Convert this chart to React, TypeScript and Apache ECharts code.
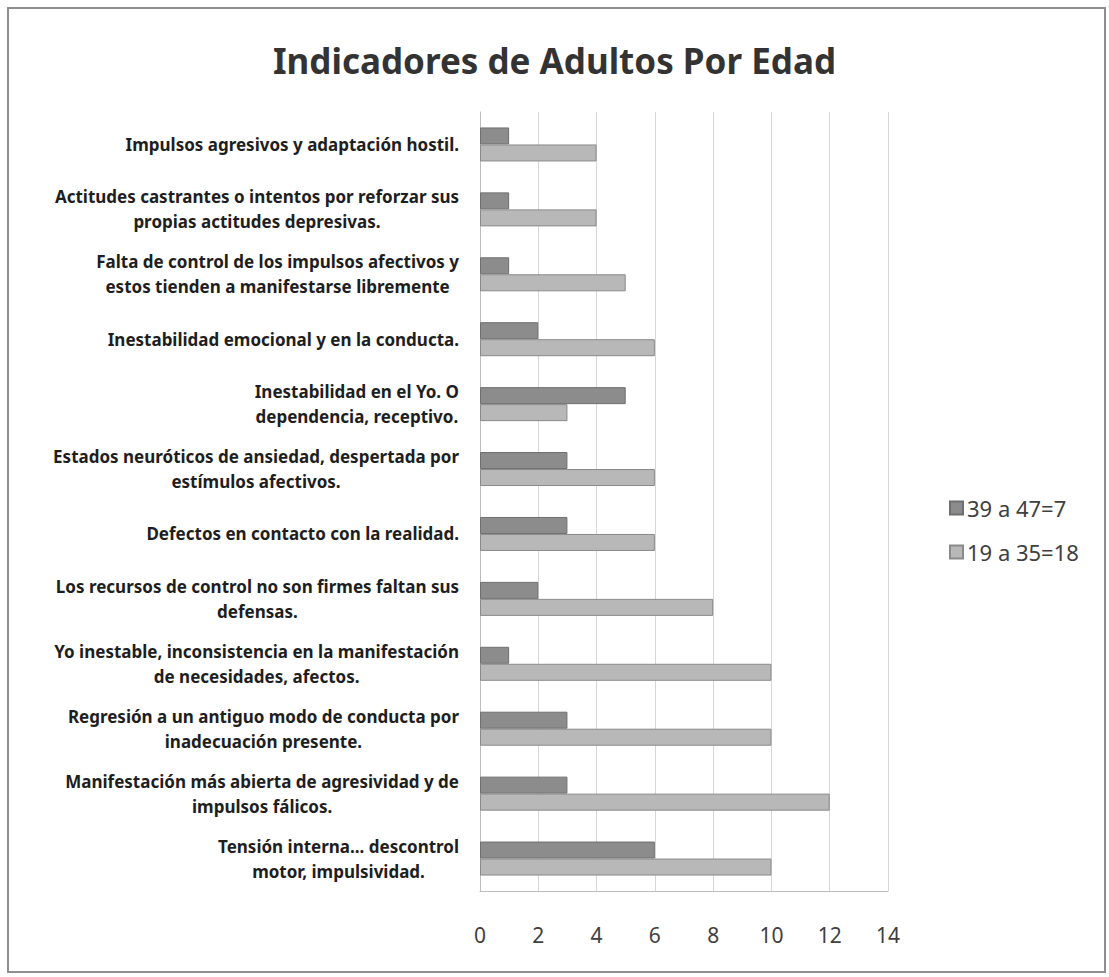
import React, { useEffect, useRef } from "react";
import * as echarts from "echarts";

const titleText = "Indicadores de Adultos Por Edad";

const categories: string[] = [
  "Impulsos agresivos y adaptación hostil.",
  "Actitudes castrantes o intentos por reforzar sus\npropias actitudes depresivas.",
  "Falta de control de los impulsos afectivos y\nestos tienden a manifestarse libremente",
  "Inestabilidad emocional y en la conducta.",
  "Inestabilidad en el Yo. O\ndependencia, receptivo.",
  "Estados neuróticos de ansiedad, despertada por\nestímulos afectivos.",
  "Defectos en contacto con la realidad.",
  "Los recursos de control no son firmes faltan sus\ndefensas.",
  "Yo inestable, inconsistencia en la manifestación\nde necesidades, afectos.",
  "Regresión a un antiguo modo de conducta por\ninadecuación presente.",
  "Manifestación más abierta de agresividad y de\nimpulsos fálicos.",
  "Tensión interna... descontrol\nmotor, impulsividad.",
];

const seriesOlderName = "39 a 47=7";
const seriesYoungerName = "19 a 35=18";

const olderValues: number[] = [1, 1, 1, 2, 5, 3, 3, 2, 1, 3, 3, 6];
const youngerValues: number[] = [4, 4, 5, 6, 3, 6, 6, 8, 10, 10, 12, 10];

const xMin = 0;
const xMax = 14;
const xInterval = 2;

export default function App() {
  const ref = useRef<HTMLDivElement>(null);

  useEffect(() => {
    if (!ref.current) return;
    const chart = echarts.init(ref.current, undefined, { renderer: "svg" });
    const labelFont = "Noto Sans";
    chart.setOption({
      animation: false,
      backgroundColor: "#ffffff",
      title: {
        text: titleText,
        left: "center",
        top: 38,
        textStyle: {
          fontFamily: labelFont,
          fontSize: 35,
          fontWeight: "bold",
          color: "#333333",
        },
      },
      graphic: [
        {
          type: "rect",
          shape: { x: 8, y: 8, width: 1097, height: 964 },
          style: { fill: "none", stroke: "#8f8f8f", lineWidth: 2 },
          silent: true,
        },
      ],
      legend: {
        orient: "vertical",
        left: 944,
        top: 492,
        itemWidth: 13,
        itemHeight: 13,
        itemGap: 22,
        icon: "rect",
        data: [seriesOlderName, seriesYoungerName],
        textStyle: {
          fontFamily: labelFont,
          fontSize: 22,
          color: "#404040",
          padding: [0, 0, 0, -1],
        },
      },
      grid: {
        left: 480,
        right: 221,
        top: 112,
        bottom: 86,
        containLabel: false,
      },
      xAxis: {
        type: "value",
        min: xMin,
        max: xMax,
        interval: xInterval,
        axisLine: { show: true, lineStyle: { color: "#bdbdbd", width: 1 } },
        axisTick: { show: false },
        splitLine: { show: true, lineStyle: { color: "#d6d6d6", width: 1 } },
        axisLabel: {
          margin: 33,
          fontFamily: labelFont,
          fontSize: 21,
          color: "#404040",
        },
      },
      yAxis: {
        type: "category",
        inverse: true,
        data: categories,
        axisLine: { show: true, lineStyle: { color: "#bdbdbd", width: 1 } },
        axisTick: { show: false },
        axisLabel: {
          margin: 21,
          align: "right",
          formatter: (v: string) =>
            v
              .split("\n")
              .map((l) => `{c|${l}}`)
              .join("\n"),
          rich: {
            c: {
              align: "center",
              fontFamily: labelFont,
              fontSize: 17,
              fontWeight: "bold",
              color: "#1e1e1e",
              lineHeight: 25,
            },
          },
        },
      },
      series: [
        {
          name: seriesOlderName,
          type: "bar",
          data: olderValues,
          barWidth: 17,
          barGap: "0%",
          itemStyle: { color: "#8c8c8c", borderColor: "#6f6f6f", borderWidth: 1 },
        },
        {
          name: seriesYoungerName,
          type: "bar",
          data: youngerValues,
          barWidth: 17,
          barGap: "0%",
          itemStyle: { color: "#b8b8b8", borderColor: "#8a8a8a", borderWidth: 1 },
        },
      ],
    });
    return () => chart.dispose();
  }, []);

  return (
    <div
      ref={ref}
      style={{ position: "fixed", left: 0, top: 0, width: 1109, height: 977 }}
    />
  );
}
